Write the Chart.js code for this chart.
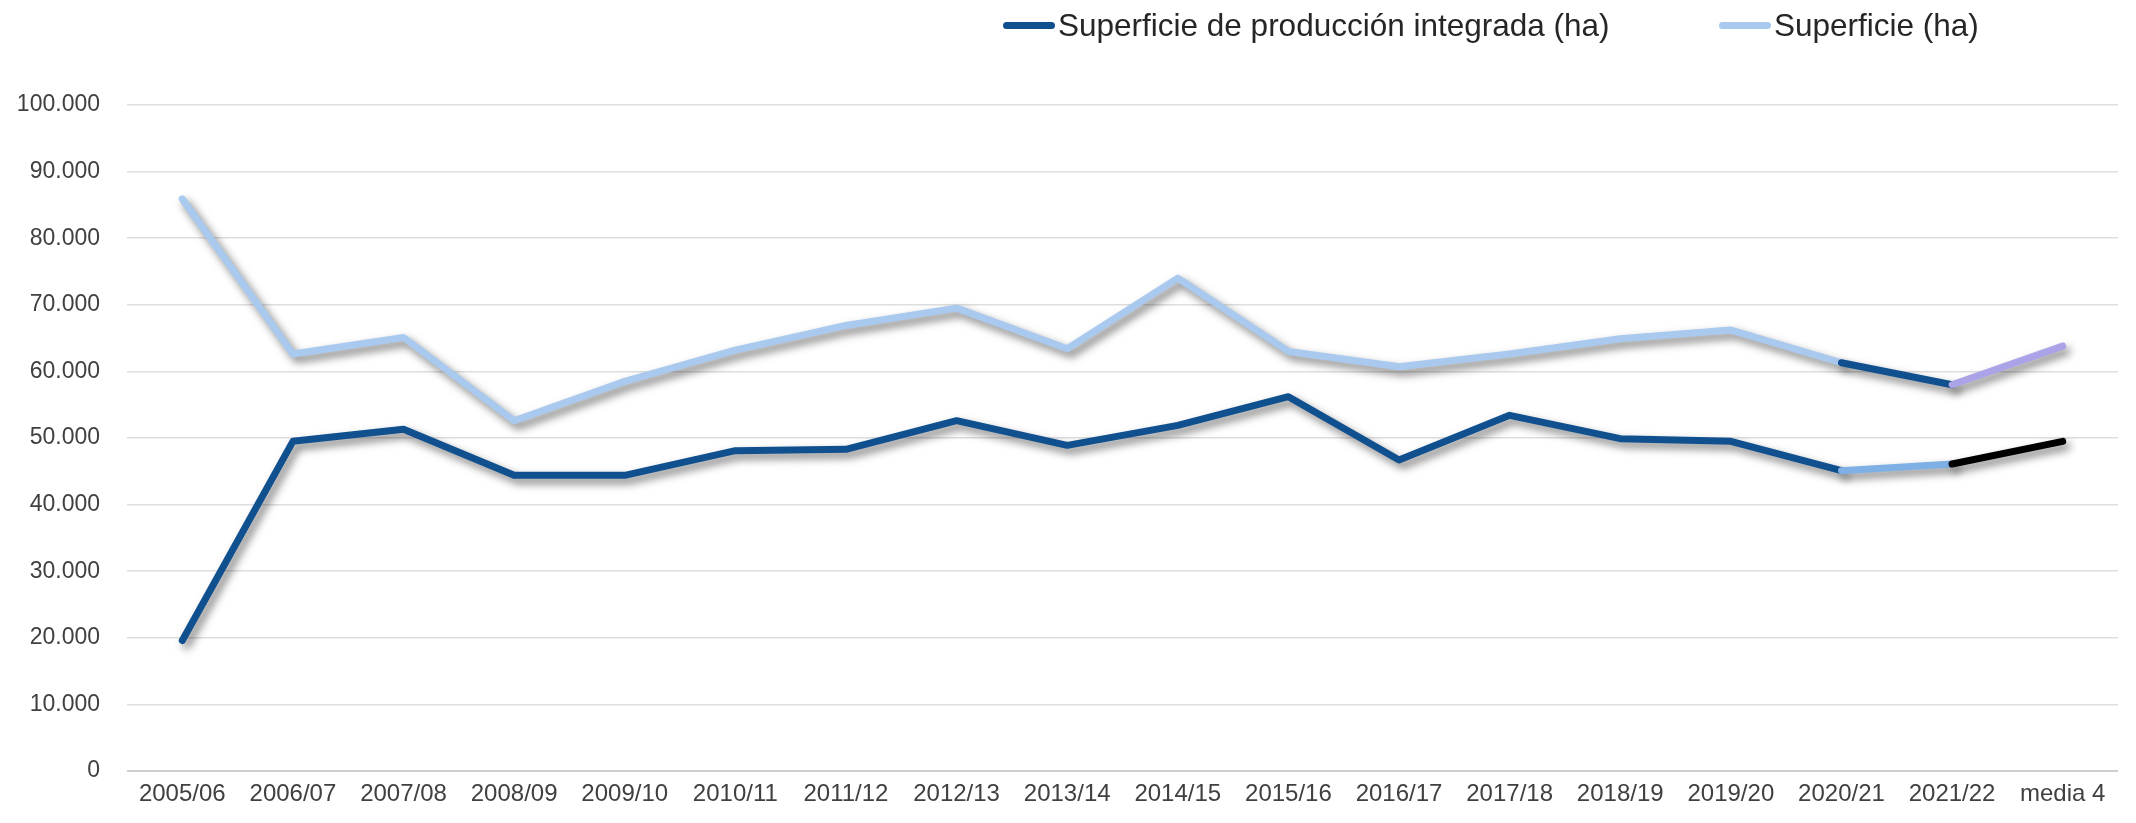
<!DOCTYPE html>
<html lang="es">
<head>
<meta charset="utf-8">
<title>Superficie de producción integrada</title>
<script src="https://cdn.jsdelivr.net/npm/chart.js@4.4.1/dist/chart.umd.min.js"></script>
<style>
  body { margin: 0; background: #fff; }
  #wrap { position: relative; width: 2136px; height: 823px; }
  .leg { position: absolute; top: 6px; font: 31.5px "Liberation Sans", Arial, sans-serif; color: #262626; white-space: nowrap; line-height: 38px; }
  .leg .sw { display: inline-block; width: 52px; height: 7px; border-radius: 4px; vertical-align: middle; margin-right: 3px; position: relative; top: -2px; }
</style>
</head>
<body>
<div id="wrap">
  <canvas id="chart" width="2136" height="823"></canvas>
  <div class="leg" style="left:1003px"><span class="sw" style="background:#11508f"></span>Superficie de producción integrada (ha)</div>
  <div class="leg" style="left:1719px"><span class="sw" style="background:#a9c9ee"></span>Superficie (ha)</div>
</div>
<script>
// datos
const categories = ['2005/06', '2006/07', '2007/08', '2008/09', '2009/10', '2010/11', '2011/12', '2012/13', '2013/14',
    '2014/15', '2015/16', '2016/17', '2017/18', '2018/19', '2019/20', '2020/21', '2021/22', 'media 4'];
const superficieIntegrada = [19600, 49500, 51300, 44400, 44400, 48100, 48300, 52600, 48900,
    51900, 56200, 46700, 53400, 49900, 49500, 45100, 46100, 49500];
const superficie = [85900, 62600, 65100, 52600, 58500, 63200, 66900, 69500, 63400,
    74000, 63000, 60700, 62600, 64900, 66200, 61300, 58000, 63800];
const yMax = 100000;
const yStep = 10000;

const lastYear = categories.indexOf('2020/21'); // los dos últimos tramos cambian de color

function formatMiles(v) {
    return String(v).replace(/\B(?=(\d{3})+(?!\d))/g, '.');
}

// sombra gris bajo las líneas, como en el Excel
const shadowPlugin = {
    id: 'lineShadow',
    beforeDatasetsDraw(chart) {
        const c = chart.ctx;
        c.save();
        c.shadowColor = 'rgba(0,0,0,0.5)';
        c.shadowBlur = 8;
        c.shadowOffsetX = 4;
        c.shadowOffsetY = 5;
    },
    afterDatasetsDraw(chart) {
        chart.ctx.restore();
    }
};

const font = '"Liberation Sans", Arial, sans-serif';

new Chart(document.getElementById('chart').getContext('2d'), {
    type: 'line',
    data: {
        labels: categories,
        datasets: [{
            label: 'Superficie de producción integrada (ha)',
            data: superficieIntegrada,
            borderColor: '#11508f',
            borderWidth: 7,
            pointRadius: 0,
            tension: 0,
            borderJoinStyle: 'round',
            borderCapStyle: 'round',
            segment: {
                borderColor: ctx => ctx.p0DataIndex === lastYear ? '#7eb0e6' : (ctx.p0DataIndex === lastYear + 1 ? '#000000' : undefined)
            }
        }, {
            label: 'Superficie (ha)',
            data: superficie,
            borderColor: '#a9c9ee',
            borderWidth: 7,
            pointRadius: 0,
            tension: 0,
            borderJoinStyle: 'round',
            borderCapStyle: 'round',
            segment: {
                borderColor: ctx => ctx.p0DataIndex === lastYear ? '#11508f' : (ctx.p0DataIndex === lastYear + 1 ? '#aaa3e8' : undefined)
            }
        }]
    },
    options: {
        responsive: false,
        devicePixelRatio: 1,
        animation: false,
        layout: { padding: { top: 105, left: 17, right: 18, bottom: 3 } },
        plugins: {
            legend: { display: false },
            tooltip: { enabled: false }
        },
        scales: {
            x: {
                offset: true,
                grid: { display: false, drawTicks: false },
                border: { display: false },
                ticks: {
                    color: '#404040',
                    font: { family: font, size: 24 },
                    padding: 9,
                    maxRotation: 0,
                    autoSkip: false
                },
                afterFit: scale => { scale.height = 49; }
            },
            y: {
                min: 0,
                max: yMax,
                border: { display: false },
                grid: {
                    drawTicks: false,
                    color: ctx => ctx.tick && ctx.tick.value === 0 ? '#cfcfcf' : '#dedede',
                    lineWidth: ctx => ctx.tick && ctx.tick.value === 0 ? 2 : 1.5
                },
                ticks: {
                    stepSize: yStep,
                    color: '#404040',
                    font: { family: font, size: 23 },
                    padding: 27,
                    callback: v => formatMiles(v)
                },
                afterFit: scale => { scale.width = 110; }
            }
        }
    },
    plugins: [shadowPlugin]
});
</script>
</body>
</html>
